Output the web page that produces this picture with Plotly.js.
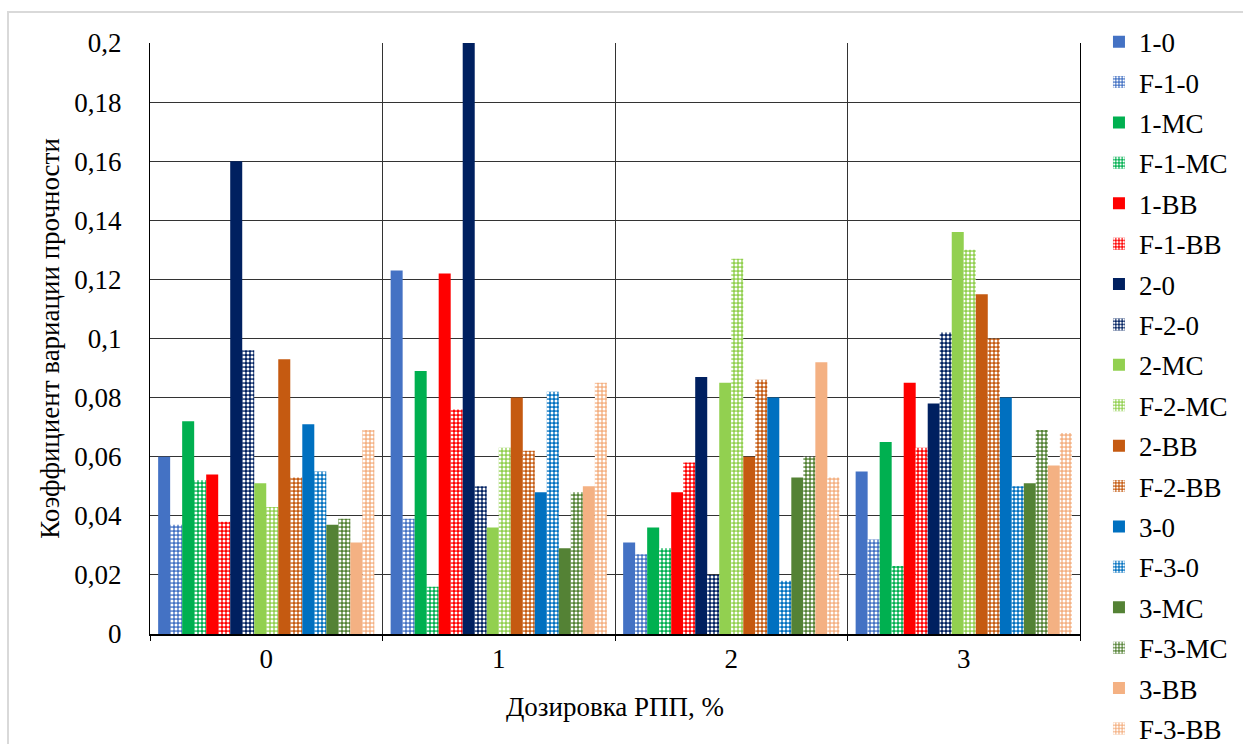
<!DOCTYPE html>
<html>
<head>
<meta charset="utf-8">
<script src="https://cdn.plot.ly/plotly-3.0.1.min.js"></script>
<style>
html,body{margin:0;padding:0;background:#fff;}
#frame{position:absolute;left:7px;top:11px;width:1300px;height:800px;border:2px solid #d9d9d9;box-sizing:border-box;pointer-events:none;z-index:5;}
#chart{position:absolute;left:0;top:0;width:1243px;height:744px;}
</style>
</head>
<body>
<div id="chart"></div>
<div id="frame"></div>
<script>
// Categories (dosage of RPP, %)
const categories = ['0', '1', '2', '3'];

// Series names
const seriesNames = ['1-0','F-1-0','1-MC','F-1-MC','1-BB','F-1-BB','2-0','F-2-0','2-MC','F-2-MC','2-BB','F-2-BB','3-0','F-3-0','3-MC','F-3-MC','3-BB','F-3-BB'];

// Values per series (for categories 0,1,2,3)
const v_1_0   = [0.060, 0.123, 0.031, 0.055];
const v_F_1_0 = [0.037, 0.039, 0.027, 0.032];
const v_1_MC  = [0.072, 0.089, 0.036, 0.065];
const v_F_1_MC= [0.052, 0.016, 0.029, 0.023];
const v_1_BB  = [0.054, 0.122, 0.048, 0.085];
const v_F_1_BB= [0.038, 0.076, 0.058, 0.063];
const v_2_0   = [0.160, 0.200, 0.087, 0.078];
const v_F_2_0 = [0.096, 0.050, 0.020, 0.102];
const v_2_MC  = [0.051, 0.036, 0.085, 0.136];
const v_F_2_MC= [0.043, 0.063, 0.127, 0.130];
const v_2_BB  = [0.093, 0.080, 0.060, 0.115];
const v_F_2_BB= [0.053, 0.062, 0.086, 0.100];
const v_3_0   = [0.071, 0.048, 0.080, 0.080];
const v_F_3_0 = [0.055, 0.082, 0.018, 0.050];
const v_3_MC  = [0.037, 0.029, 0.053, 0.051];
const v_F_3_MC= [0.039, 0.048, 0.060, 0.069];
const v_3_BB  = [0.031, 0.050, 0.092, 0.057];
const v_F_3_BB= [0.069, 0.085, 0.053, 0.068];

const seriesValues = [v_1_0, v_F_1_0, v_1_MC, v_F_1_MC, v_1_BB, v_F_1_BB, v_2_0, v_F_2_0, v_2_MC, v_F_2_MC, v_2_BB, v_F_2_BB, v_3_0, v_F_3_0, v_3_MC, v_F_3_MC, v_3_BB, v_F_3_BB];

// Base colours (solid and patterned series share colour)
const seriesColors = ['#4472C4','#4472C4','#00B050','#00B050','#FF0000','#FF0000','#002060','#002060','#92D050','#92D050','#C55A11','#C55A11','#0070C0','#0070C0','#548235','#548235','#F4B183','#F4B183'];
const seriesPatterned = [false,true,false,true,false,true,false,true,false,true,false,true,false,true,false,true,false,true];

// Axis ticks
const yTickVals = [0, 0.02, 0.04, 0.06, 0.08, 0.1, 0.12, 0.14, 0.16, 0.18, 0.2];
const yTickText = ['0','0,02','0,04','0,06','0,08','0,1','0,12','0,14','0,16','0,18','0,2'];
const xDividers = [-0.5, 0.5, 1.5, 2.5, 3.5];

const FONT = '"Liberation Serif", serif';
const FS = 27;

const traces = seriesNames.map((name, i) => {
  const t = {
    type: 'bar',
    name: name,
    x: categories,
    y: seriesValues[i],
    legendgroup: 'g' + i,
    xaxis: 'x',
    yaxis: 'y',
    hoverinfo: 'name+y',
    marker: { color: seriesColors[i], line: { width: 0 } }
  };
  if (seriesPatterned[i]) {
    t.marker = {
      color: seriesColors[i],
      line: { width: 0 },
      pattern: { shape: '.', bgcolor: seriesColors[i], fgcolor: '#ffffff', size: 4, solidity: 0.45, fillmode: 'replace' }
    };
  }
  return t;
});

// invisible helper trace on divider axis so it renders
traces.push({type:'scatter', x:[xDividers[0]], y:[0], xaxis:'x2', yaxis:'y', mode:'markers', marker:{opacity:0}, showlegend:false, hoverinfo:'skip'});

const layout = {
  width: 1243,
  height: 744,
  margin: { l: 150, r: 163, t: 43, b: 110, autoexpand: false },
  paper_bgcolor: '#ffffff',
  plot_bgcolor: '#ffffff',
  font: { family: FONT, size: FS, color: '#000' },
  barmode: 'group',
  bargap: 0.07,
  bargroupgap: 0,
  showlegend: true,
  legend: {
    x: 1.0204, xanchor: 'left',
    y: 1.043, yanchor: 'top',
    maxheight: 735,
    font: { family: FONT, size: FS, color: '#000' },
    traceorder: 'grouped',
    tracegroupgap: 2.3,
    itemwidth: 30,
    bgcolor: 'rgba(0,0,0,0)'
  },
  xaxis: {
    type: 'category',
    range: [-0.5, 3.5],
    showgrid: false,
    ticks: '',
    tickfont: { family: FONT, size: FS },
    showline: true, linecolor: '#000', linewidth: 2,
    mirror: false,
    automargin: false,
    title: { text: 'Дозировка РПП, %', font: { family: FONT, size: FS }, standoff: 24 },
    zeroline: false
  },
  xaxis2: {
    type: 'linear',
    overlaying: 'x',
    anchor: 'y',
    side: 'bottom',
    range: [-0.5, 3.5],
    tickvals: xDividers,
    showticklabels: false,
    ticks: 'outside', ticklen: 6, tickcolor: '#000', tickwidth: 1,
    showgrid: true, gridcolor: '#333', gridwidth: 1,
    zeroline: false, showline: false
  },
  yaxis: {
    range: [0, 0.2],
    tickvals: yTickVals,
    ticktext: yTickText,
    tickfont: { family: FONT, size: FS },
    ticks: '',
    ticklabelstandoff: 22,
    automargin: false,
    showgrid: true, gridcolor: '#333', gridwidth: 1,
    showline: true, linecolor: '#000', linewidth: 1, mirror: true,
    zeroline: false,
    title: { text: 'Коэффициент вариации прочности', font: { family: FONT, size: FS }, standoff: 6 }
  }
};

Plotly.newPlot('chart', traces, layout, { displayModeBar: false, staticPlot: true });
</script>
</body>
</html>
